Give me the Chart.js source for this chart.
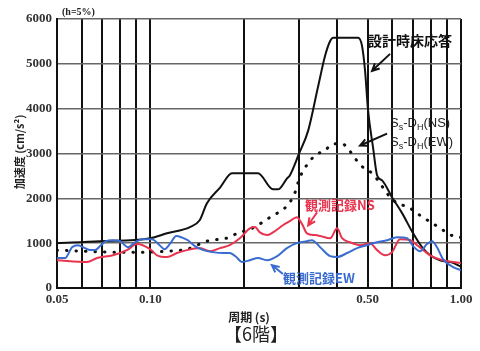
<!DOCTYPE html>
<html>
<head>
<meta charset="utf-8">
<script src="https://cdn.jsdelivr.net/npm/chart.js@4/dist/chart.umd.min.js"></script>
<style>
  html, body { margin: 0; padding: 0; background: #fff; }
  #wrap { width: 480px; height: 351px; position: relative; }
</style>
</head>
<body>
<div id="wrap"><canvas id="grafico"></canvas></div>
<script>
// 設計時床応答
const designT = [0.05, 0.0688, 0.0997, 0.113, 0.134, 0.144, 0.152, 0.1675, 0.183, 0.222, 0.248, 0.2575, 0.275, 0.281, 0.301, 0.322, 0.346, 0.365, 0.379, 0.387, 0.466, 0.480, 0.491, 0.502, 0.521, 0.537, 0.557, 0.600, 0.646, 0.701, 0.749, 0.795, 0.856, 0.943, 1.0]
const designV = [1000, 1040, 1110, 1220, 1360, 1510, 1890, 2240, 2560, 2560, 2200, 2200, 2440, 2510, 3000, 3510, 4470, 5180, 5510, 5580, 5580, 5400, 4840, 3960, 3130, 2510, 2400, 2020, 1670, 1220, 910, 730, 620, 560, 470]

// Ss-DH (NS / EW)
const ssT = [0.05, 0.0606, 0.0757, 0.0975, 0.113, 0.131, 0.152, 0.1675, 0.180, 0.190, 0.209, 0.230, 0.248, 0.265, 0.281, 0.292, 0.299, 0.308, 0.322, 0.339, 0.365, 0.387, 0.414, 0.430, 0.456, 0.484, 0.517, 0.604, 0.685, 0.738, 0.837, 0.943, 1.0]
const ssV = [845, 820, 800, 800, 820, 865, 1045, 1090, 1130, 1220, 1310, 1470, 1620, 1730, 1910, 2130, 2360, 2580, 2780, 2960, 3070, 3220, 3220, 3130, 2890, 2690, 2560, 1960, 1780, 1620, 1380, 1160, 1130]

// 観測記録NS
const nsT = [0.05, 0.0625, 0.0673, 0.0757, 0.084, 0.0905, 0.0997, 0.105, 0.113, 0.1217, 0.131, 0.144, 0.1555, 0.1675, 0.180, 0.194, 0.209, 0.217, 0.225, 0.237, 0.248, 0.267, 0.281, 0.296, 0.308, 0.319, 0.339, 0.352, 0.379, 0.399, 0.414, 0.439, 0.473, 0.509, 0.537, 0.569, 0.600, 0.636, 0.685, 0.722, 0.795, 0.875, 1.0]
const nsV = [620, 580, 670, 730, 845, 980, 865, 730, 690, 780, 845, 890, 820, 890, 955, 1110, 1330, 1360, 1240, 1180, 1240, 1400, 1490, 1580, 1420, 1220, 1180, 1160, 1110, 1330, 1110, 1020, 955, 1000, 845, 730, 800, 1090, 1070, 955, 730, 620, 556]

// 観測記録EW
const ewT = [0.05, 0.0531, 0.0559, 0.0584, 0.0615, 0.0639, 0.0663, 0.0688, 0.0719, 0.0757, 0.0798, 0.0847, 0.0892, 0.0946, 0.101, 0.107, 0.111, 0.116, 0.121, 0.126, 0.132, 0.139, 0.148, 0.159, 0.171, 0.180, 0.189, 0.197, 0.209, 0.222, 0.237, 0.256, 0.275, 0.296, 0.319, 0.331, 0.352, 0.379, 0.399, 0.430, 0.463, 0.498, 0.537, 0.578, 0.622, 0.670, 0.701, 0.738, 0.777, 0.807, 0.837, 0.875, 0.943, 1.0]
const ewV = [667, 667, 910, 955, 890, 845, 845, 935, 1045, 1065, 1045, 910, 1020, 1090, 1090, 955, 865, 1000, 1160, 1130, 1065, 935, 845, 800, 780, 780, 690, 580, 620, 667, 620, 710, 890, 1000, 1045, 1065, 910, 710, 690, 780, 890, 955, 1020, 1065, 1130, 1110, 935, 820, 980, 1045, 910, 645, 467, 400]

const xTicks = [0.05, 0.06, 0.07, 0.08, 0.09, 0.1, 0.2, 0.3, 0.4, 0.5, 0.6, 0.7, 0.8, 0.9, 1.0]
const xLabels = { 0.05: '0.05', 0.1: '0.10', 0.5: '0.50', 1: '1.00' }
const yTicks = [0, 1000, 2000, 3000, 4000, 5000, 6000]

const pts = (t, v) => t.map((x, i) => ({ x: x, y: v[i] }))

const jp = '"Noto Sans CJK JP", sans-serif'

// arrow with an open head at (x2, y2)
const arrow = (c, x1, y1, x2, y2, color) => {
  const a = Math.atan2(y2 - y1, x2 - x1)
  const h = 8
  c.strokeStyle = color
  c.lineWidth = 2
  c.beginPath()
  c.moveTo(x1, y1)
  c.lineTo(x2, y2)
  c.moveTo(x2 - h * Math.cos(a - 0.45), y2 - h * Math.sin(a - 0.45))
  c.lineTo(x2, y2)
  c.lineTo(x2 - h * Math.cos(a + 0.45), y2 - h * Math.sin(a + 0.45))
  c.stroke()
}

const ssLabel = (c, x, y, dir) => {
  c.textAlign = 'left'
  c.textBaseline = 'middle'
  c.fillStyle = '#222'
  let px = x
  const put = (s, small) => {
    c.font = (small ? '9px' : '13px') + ' "Liberation Sans", sans-serif'
    c.fillText(s, px, small ? y + 4 : y)
    px += c.measureText(s).width
  }
  put('S'); put('s', true); put('-D'); put('H', true); put('(' + dir + ')')
}

const textos = {
  id: 'textos',
  afterDraw(chart) {
    const c = chart.ctx
    const xs = chart.scales.x, ys = chart.scales.y
    const ca = chart.chartArea
    const X = t => xs.getPixelForValue(t)
    const Y = v => ys.getPixelForValue(v)
    c.save()

    c.fillStyle = '#222'
    c.font = 'bold 10px "Liberation Serif", serif'
    c.textAlign = 'left'
    c.textBaseline = 'middle'
    c.fillText('(h=5%)', ca.left + 5, ca.top - 7)

    // y axis title
    c.save()
    c.translate(20, 152)
    c.rotate(-Math.PI / 2)
    c.textAlign = 'center'
    c.font = 'bold 11px ' + jp
    c.fillText('加速度 (cm/s²)', 0, 0)
    c.restore()

    c.textAlign = 'center'
    c.font = 'bold 12px ' + jp
    c.fillText('周期 (s)', 249, 317)
    c.font = '18px ' + jp
    c.fillText('【6階】', 256, 334)

    // annotations
    c.textAlign = 'left'
    c.fillStyle = '#111'
    c.font = 'bold 14px ' + jp
    c.fillText('設計時床応答', X(0.502), Y(5510))
    arrow(c, X(0.591), Y(5222), X(0.517), Y(4844), '#111')

    ssLabel(c, X(0.591), Y(3667), 'NS')
    ssLabel(c, X(0.591), Y(3244), 'EW')
    arrow(c, X(0.578), Y(3444), X(0.473), Y(3178), '#111')

    c.fillStyle = '#e8344e'
    c.font = 'bold 13px ' + jp
    c.fillText('観測記録NS', X(0.3145), Y(1844))
    arrow(c, X(0.344), Y(1689), X(0.322), Y(1400), '#e8344e')

    c.fillStyle = '#3a6cd0'
    c.fillText('観測記録EW', X(0.267), Y(222))
    arrow(c, X(0.267), Y(311), X(0.246), Y(511), '#3a6cd0')

    c.restore()
  }
}

new Chart(document.getElementById('grafico'), {
  type: 'scatter',
  data: {
    datasets: [
      { label: '設計時床応答', data: pts(designT, designV), borderColor: '#111', borderWidth: 2, order: 4 },
      { label: 'Ss-DH', data: pts(ssT, ssV), borderColor: '#111', borderWidth: 3, borderDash: [0.5, 9], borderCapStyle: 'round', order: 3 },
      { label: '観測記録NS', data: pts(nsT, nsV), borderColor: '#e8344e', borderWidth: 2, order: 2 },
      { label: '観測記録EW', data: pts(ewT, ewV), borderColor: '#3a6cd0', borderWidth: 2, order: 1 }
    ].map(d => Object.assign(d, { showLine: true, pointRadius: 0, cubicInterpolationMode: 'monotone', fill: false }))
  },
  options: {
    responsive: true,
    maintainAspectRatio: false,
    animation: false,
    layout: { padding: { top: 19, right: 19, left: 0, bottom: 0 } },
    plugins: { legend: { display: false }, tooltip: { enabled: false } },
    scales: {
      x: {
        type: 'logarithmic',
        min: 0.05,
        max: 1.0,
        afterBuildTicks: s => { s.ticks = xTicks.map(v => ({ value: v })) },
        afterFit: s => { s.height = 63 },
        grid: { color: '#111', lineWidth: 2, drawTicks: false },
        border: { color: '#111', width: 2 },
        ticks: {
          autoSkip: false,
          maxRotation: 0,
          padding: 4,
          color: '#333',
          font: { family: '"Liberation Serif", serif', size: 13, weight: 'bold' },
          callback: v => xLabels[v] || ''
        }
      },
      y: {
        min: 0,
        max: 6000,
        afterBuildTicks: s => { s.ticks = yTicks.map(v => ({ value: v })) },
        afterFit: s => { s.width = 57 },
        grid: { color: '#666', lineWidth: 1.5, drawTicks: false },
        border: { color: '#111', width: 2 },
        ticks: {
          padding: 5,
          color: '#333',
          font: { family: '"Liberation Serif", serif', size: 13, weight: 'bold' },
          callback: v => String(v)
        }
      }
    }
  },
  plugins: [textos]
})
</script>
</body>
</html>
